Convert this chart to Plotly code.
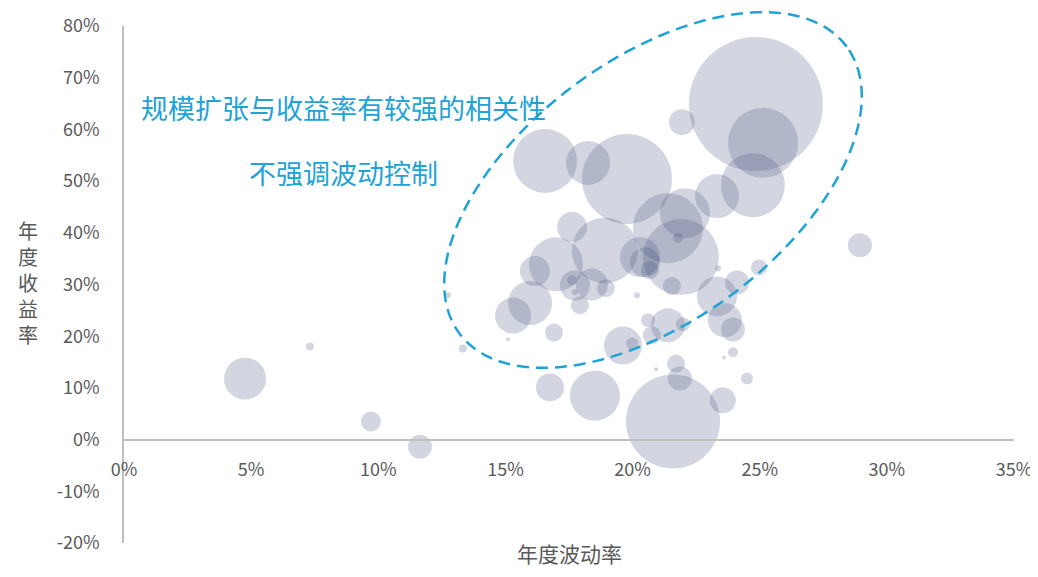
import math
import plotly.graph_objects as go

# ---- data (annual volatility %, annual return %, fund scale) ----
volatility = [4.76, 7.31, 9.71, 11.64, 13.33, 12.74, 28.94, 24.85, 25.13, 24.73,
              21.94, 19.78, 16.56, 18.25, 23.32, 22.06, 21.39, 21.90, 18.91, 17.62,
              16.99, 16.16, 15.97, 15.30, 16.91, 17.93, 17.73, 18.40, 18.95, 17.62,
              17.73, 15.10, 20.29, 20.49, 20.68, 21.79, 20.17, 21.55, 23.32, 24.11,
              23.63, 23.95, 24.97, 23.36, 20.61, 21.39, 21.98, 20.76, 19.62, 19.98,
              21.71, 21.86, 20.92, 21.59, 23.55, 24.50, 23.95, 23.59, 16.75, 18.52]
annual_return = [11.8, 18.0, 3.5, -1.4, 17.6, 27.9, 37.6, 64.9, 57.4, 49.2,
                 61.4, 50.4, 53.9, 53.5, 47.1, 43.8, 40.9, 35.3, 36.6, 41.1,
                 33.9, 32.6, 26.4, 24.0, 20.7, 26.0, 29.8, 30.0, 29.3, 30.8,
                 28.5, 19.4, 35.3, 34.3, 32.8, 39.0, 27.9, 29.7, 27.7, 30.4,
                 23.1, 21.3, 33.3, 33.1, 23.1, 22.1, 22.3, 20.2, 18.2, 18.6,
                 14.7, 11.8, 13.6, 3.5, 7.6, 11.8, 16.9, 15.9, 10.1, 8.5]
fund_scale = [44.1, 1.6, 10.0, 14.4, 1.6, 0.9, 14.4, 448.9, 122.5, 102.4,
              16.9, 202.5, 102.4, 48.4, 48.4, 62.5, 122.5, 144.4, 108.9, 22.5,
              72.9, 22.5, 48.4, 32.4, 8.1, 8.1, 22.5, 25.6, 8.1, 2.5,
              0.9, 0.2, 40.0, 22.5, 8.1, 2.5, 0.9, 8.1, 40.0, 14.4,
              28.9, 14.4, 6.4, 0.9, 4.9, 28.9, 4.9, 8.1, 36.1, 3.6,
              8.1, 14.4, 0.4, 220.9, 16.9, 3.6, 2.5, 0.4, 19.6, 62.5]

x_ticks = [0, 5, 10, 15, 20, 25, 30, 35]
y_ticks = [-20, -10, 0, 10, 20, 30, 40, 50, 60, 70, 80]
note_line1 = "规模扩张与收益率有较强的相关性"
note_line2 = "不强调波动控制"
x_title = "年度波动率"
y_title = "年度收益率"

# ---- layout geometry (page body has an 8px default margin) ----
BODY = 8
W, H = 1030, 561
ML, MT = 124 - BODY, 26 - BODY
PW, PH = 890, 517
MR = W - ML - PW
MB = H - MT - PH
X_RANGE = [0, 35]
Y_RANGE = [-20, 80]

def px_to_paper(px, py):
    """screen pixel (window coords) -> paper coords"""
    return (px - BODY - ML) / PW, (MT + PH - (py - BODY)) / PH

MAX_DIAM = 134
sizeref = 2.0 * max(fund_scale) / MAX_DIAM ** 2

fig = go.Figure()
fig.add_trace(go.Scatter(
    x=volatility, y=annual_return, mode="markers",
    marker=dict(size=fund_scale, sizemode="area", sizeref=sizeref, sizemin=2,
                color="rgba(64,78,120,0.33)", line=dict(width=0)),
    hoverinfo="skip", showlegend=False, cliponaxis=False,
))

# dashed ellipse highlight (pixel geometry -> paper coords, so it is not clipped)
cx_px, cy_px, a_px, b_px, theta = 653, 190, 241, 131, math.radians(36.5)
pts = []
for i in range(121):
    t = 2 * math.pi * i / 120
    ex = a_px * math.cos(t)
    ey = b_px * math.sin(t)
    px = cx_px + ex * math.cos(theta) - ey * math.sin(theta)
    py = cy_px - (ex * math.sin(theta) + ey * math.cos(theta))
    pts.append(px_to_paper(px, py))
path = "M " + " L ".join(f"{x:.5f},{y:.5f}" for x, y in pts) + " Z"
fig.add_shape(type="path", path=path, xref="paper", yref="paper",
              line=dict(color="#1FA3D5", width=2.5, dash="12px,7px"))

FONT = "Noto Sans CJK SC"
GRAY = "#595959"
BLUE = "#22A2D6"

for txt, (px, py) in ((note_line1, (139, 107)), (note_line2, (247, 172))):
    ax, ay = px_to_paper(px, py)
    fig.add_annotation(x=ax, y=ay, xref="paper", yref="paper", text=txt, showarrow=False,
                       xanchor="left", yanchor="middle",
                       font=dict(family=FONT, size=27, color=BLUE))

tx, ty = px_to_paper(28, 282)
fig.add_annotation(x=tx, y=ty, xref="paper", yref="paper",
                   text="<br>".join(list(y_title)), showarrow=False,
                   xanchor="center", yanchor="middle",
                   font=dict(family=FONT, size=20, color=GRAY))
tx, ty = px_to_paper(569, 553)
fig.add_annotation(x=tx, y=ty, xref="paper", yref="paper",
                   text=x_title, showarrow=False, xanchor="center", yanchor="middle",
                   font=dict(family=FONT, size=21, color=GRAY))

fig.update_layout(
    width=W, height=H,
    margin=dict(l=ML, r=MR, t=MT, b=MB, autoexpand=False),
    paper_bgcolor="white", plot_bgcolor="white",
    font=dict(family=FONT, color=GRAY, size=18),
    xaxis=dict(range=X_RANGE, tickvals=x_ticks, ticktext=[f"{v}%" for v in x_ticks],
               showgrid=False, zeroline=False, showline=True, linecolor="#BFBFBF",
               linewidth=1.5, ticks="", anchor="free",
               position=(0 - Y_RANGE[0]) / (Y_RANGE[1] - Y_RANGE[0]),
               automargin=False, ticklabelstandoff=14,
               tickfont=dict(size=18, color=GRAY)),
    yaxis=dict(range=Y_RANGE, tickvals=y_ticks, ticktext=[f"{v}%" for v in y_ticks],
               showgrid=False, zeroline=False, showline=True, linecolor="#BFBFBF",
               linewidth=1.5, ticks="", ticklabelstandoff=19, automargin=False,
               tickfont=dict(size=18, color=GRAY)),
)

fig.write_html("out.html")
